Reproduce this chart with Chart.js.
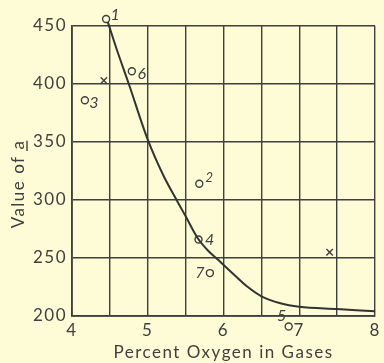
<!DOCTYPE html>
<html>
<head>
<meta charset="utf-8">
<script src="https://cdn.jsdelivr.net/npm/chart.js@4/dist/chart.umd.min.js"></script>
<style>
  html, body { margin: 0; padding: 0; background: #fdfcd6; }
  #wrap { width: 384px; height: 363px; }
</style>
</head>
<body>
<div id="wrap"><canvas id="chart" width="384" height="363"></canvas></div>
<script>
// Curve (percent oxygen, value of a)
const curveX = [4.47, 4.6, 4.75, 5.0, 5.2, 5.38, 5.5, 5.66, 5.8, 5.92, 6.1, 6.3, 6.5, 6.75, 7.0, 7.5, 8.0];
const curveY = [454, 428, 400, 352, 322, 300, 286, 267, 256, 249, 238, 226, 217, 211, 208, 206, 204];

// Numbered test points
const pointLabels = ['1', '6', '3', '2', '4', '7', '5'];
const pointX = [4.45, 4.79, 4.17, 5.68, 5.67, 5.82, 6.86];
const pointY = [456, 411, 386, 314, 266, 237, 191];

// Crosses
const crossX = [4.42, 7.4];
const crossY = [403, 255];

const xTicks = [4, 5, 6, 7, 8];

const INK = '#3f3f3f';
const PAPER = '#fdfcd6';
const FONT = 'Lato, "DejaVu Sans", sans-serif';

const paperPlugin = {
    id: 'paper',
    beforeDraw(chart) {
        const ctx = chart.ctx;
        ctx.save();
        ctx.fillStyle = PAPER;
        ctx.fillRect(0, 0, chart.width, chart.height);
        ctx.restore();
        // wide hand lettering for ticks and the x title
        ctx.letterSpacing = '1.5px';
    }
};

// offsets of the hand-written numbers next to each circle
const labelOffsets = {
    '1': [9, -4], '6': [10, 3], '3': [9, 3], '2': [10, -6],
    '4': [11, 0], '7': [-10, 0], '5': [-7, -11]
};

const labelsPlugin = {
    id: 'pointNumbers',
    afterDatasetsDraw(chart) {
        const ctx = chart.ctx;
        const meta = chart.getDatasetMeta(1);
        const area = chart.chartArea;
        ctx.save();
        ctx.letterSpacing = '0px';
        ctx.fillStyle = INK;
        ctx.strokeStyle = INK;
        ctx.lineWidth = 1.4;
        ctx.textAlign = 'center';
        ctx.textBaseline = 'middle';
        meta.data.forEach((el, i) => {
            // circles lying outside the frame are skipped by Chart.js, draw them here
            if (el.y < area.top || el.y > area.bottom) {
                ctx.beginPath();
                ctx.arc(el.x, el.y, 3.5, 0, Math.PI * 2);
                ctx.fillStyle = PAPER;
                ctx.fill();
                ctx.stroke();
                ctx.fillStyle = INK;
            }
            const txt = pointLabels[i];
            const off = labelOffsets[txt];
            ctx.font = (txt === '2' ? 'italic 13px ' : 'italic 16px ') + FONT;
            ctx.fillText(txt, el.x + off[0], el.y + off[1]);
        });

        // y axis title with underlined "a"
        ctx.translate(19, 184);
        ctx.rotate(-Math.PI / 2);
        ctx.font = '17px ' + FONT;
        ctx.letterSpacing = '1.5px';
        const title = 'Value of a';
        const w = ctx.measureText(title).width;
        ctx.textAlign = 'left';
        ctx.fillText(title, -w / 2, 0);
        const wa = ctx.measureText('a').width;
        ctx.beginPath();
        ctx.moveTo(w / 2 - wa - 1.5, 8);
        ctx.lineTo(w / 2 - 1, 8);
        ctx.stroke();
        ctx.restore();
    }
};

const gridStyle = { color: INK, lineWidth: 1.4, drawTicks: false };

new Chart(document.getElementById('chart').getContext('2d'), {
    type: 'scatter',
    data: {
        datasets: [{
            type: 'line',
            data: curveX.map((x, i) => ({ x: x, y: curveY[i] })),
            borderColor: '#333',
            borderWidth: 2,
            pointRadius: 0,
            cubicInterpolationMode: 'monotone',
            fill: false,
            clip: false
        }, {
            data: pointX.map((x, i) => ({ x: x, y: pointY[i] })),
            pointStyle: 'circle',
            pointRadius: 3.5,
            borderColor: INK,
            borderWidth: 1.4,
            backgroundColor: PAPER,
            clip: false
        }, {
            data: crossX.map((x, i) => ({ x: x, y: crossY[i] })),
            pointStyle: 'crossRot',
            pointRadius: 4.5,
            borderColor: INK,
            borderWidth: 1.4
        }]
    },
    options: {
        responsive: false,
        animation: false,
        events: [],
        layout: { padding: { top: 26, right: 4, left: 0, bottom: 0 } },
        scales: {
            x: {
                type: 'linear',
                min: 4,
                max: 8,
                afterBuildTicks(scale) {
                    scale.ticks = [];
                    for (let v = 4; v <= 8.001; v += 0.5) scale.ticks.push({ value: v });
                },
                afterFit(scale) { scale.height = 47; },
                grid: gridStyle,
                border: { color: INK, width: 1.8 },
                ticks: {
                    padding: 4,
                    color: INK,
                    font: { family: FONT, size: 17 },
                    callback: v => xTicks.includes(v) ? String(v) : ''
                },
                title: {
                    display: true,
                    text: 'Percent Oxygen in Gases',
                    color: INK,
                    font: { family: FONT, size: 17 },
                    padding: { top: 1, bottom: 0 }
                }
            },
            y: {
                min: 200,
                max: 450,
                afterFit(scale) { scale.width = 72; },
                grid: gridStyle,
                border: { color: INK, width: 1.8 },
                ticks: {
                    stepSize: 50,
                    padding: 5,
                    color: INK,
                    font: { family: FONT, size: 17 }
                }
            }
        },
        plugins: {
            legend: { display: false },
            tooltip: { enabled: false }
        }
    },
    plugins: [paperPlugin, labelsPlugin]
});
</script>
</body>
</html>
